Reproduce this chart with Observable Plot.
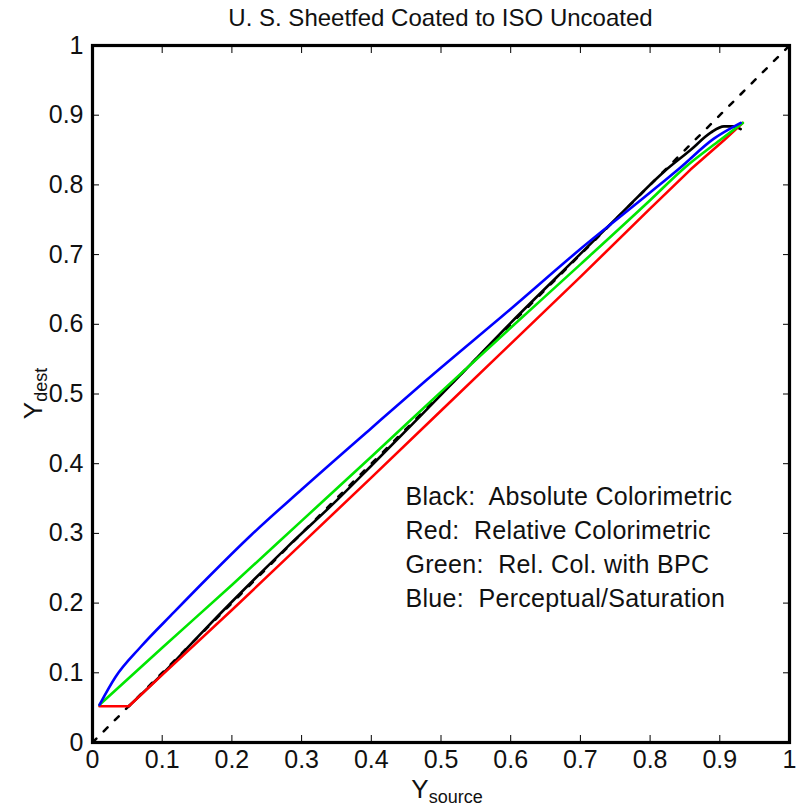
<!DOCTYPE html>
<html><head><meta charset="utf-8">
<script src="https://cdn.jsdelivr.net/npm/d3@7"></script>
<script src="https://cdn.jsdelivr.net/npm/@observablehq/plot@0.6"></script>
<style>
body{margin:0;background:#fff;}
#chart svg{font-family:"Liberation Sans",Arial,Helvetica,sans-serif;}
</style>
</head><body><div id="chart"></div>
<script>
const title = "U. S. Sheetfed Coated to ISO Uncoated";
const xLabelMain = "Y", xLabelSub = "source";
const yLabelMain = "Y", yLabelSub = "dest";
const tickValues = [0, 0.1, 0.2, 0.3, 0.4, 0.5, 0.6, 0.7, 0.8, 0.9, 1];
const tickLabels = ["0", "0.1", "0.2", "0.3", "0.4", "0.5", "0.6", "0.7", "0.8", "0.9", "1"];

const diagX = [0, 1];
const diagY = [0, 1];

const blackX = [0.052, 0.1, 0.16, 0.234, 0.279, 0.35, 0.4, 0.471, 0.514, 0.6, 0.7, 0.7575, 0.82, 0.858, 0.887, 0.906, 0.92, 0.93];
const blackY = [0.052, 0.098, 0.161, 0.236, 0.28, 0.347, 0.397, 0.469, 0.513, 0.602, 0.701, 0.758, 0.819, 0.85, 0.875, 0.884, 0.884, 0.88];

const redX = [0.01, 0.052, 0.1, 0.2, 0.3, 0.4, 0.5, 0.6, 0.7, 0.8, 0.858, 0.906, 0.933];
const redY = [0.052, 0.052, 0.097, 0.19, 0.285, 0.38, 0.476, 0.572, 0.668, 0.766, 0.822, 0.864, 0.889];

const greenX = [0.01, 0.1, 0.2, 0.3, 0.4, 0.5, 0.6, 0.7, 0.8, 0.85, 0.9, 0.933];
const greenY = [0.054, 0.136, 0.226, 0.318, 0.41, 0.503, 0.595, 0.686, 0.778, 0.825, 0.864, 0.889];

const blueX = [0.01, 0.033, 0.069, 0.117, 0.165, 0.227, 0.3, 0.4, 0.478, 0.6, 0.7, 0.8, 0.8436, 0.891, 0.93];
const blueY = [0.054, 0.094, 0.137, 0.187, 0.236, 0.297, 0.363, 0.451, 0.519, 0.622, 0.708, 0.789, 0.825, 0.866, 0.889];

const legendLines = [
  "Black:  Absolute Colorimetric",
  "Red:  Relative Colorimetric",
  "Green:  Rel. Col. with BPC",
  "Blue:  Perceptual/Saturation"
];

const toRows = (xs, ys) => xs.map((x, i) => ({x, y: ys[i]}));
const fmt = d => tickLabels[tickValues.indexOf(d)];

const W = 796, H = 809;
const mL = 92, mR = 7, mT = 45, mB = 67;

const svg = Plot.plot({
  width: W, height: H,
  marginLeft: mL, marginRight: mR, marginTop: mT, marginBottom: mB,
  style: {background: "#fff", fontFamily: "Liberation Sans, Arial, sans-serif"},
  x: {domain: [0, 1]},
  y: {domain: [0, 1]},
  marks: [
    Plot.axisX({anchor: "bottom", ticks: tickValues, tickSize: -7, tickFormat: () => "", label: null}),
    Plot.axisX({anchor: "top", ticks: tickValues, tickSize: -7, tickFormat: () => "", label: null}),
    Plot.axisY({anchor: "left", ticks: tickValues, tickSize: -7, tickFormat: () => "", label: null}),
    Plot.axisY({anchor: "right", ticks: tickValues, tickSize: -7, tickFormat: () => "", label: null}),
    Plot.axisX({anchor: "bottom", ticks: tickValues, tickSize: 0, tickPadding: 8, tickFormat: fmt, fontSize: 25, fill: "#111", label: null}),
    Plot.axisY({anchor: "left", ticks: tickValues, tickSize: 0, tickPadding: 9, tickFormat: fmt, fontSize: 25, fill: "#111", label: null}),
    Plot.line(toRows(diagX, diagY), {x: "x", y: "y", stroke: "black", strokeWidth: 2.5, strokeDasharray: "5.5,10.3"}),
    Plot.line(toRows(blackX, blackY), {x: "x", y: "y", stroke: "black", strokeWidth: 2.6, curve: "monotone-x"}),
    Plot.line(toRows(redX, redY), {x: "x", y: "y", stroke: "#ff0000", strokeWidth: 2.6}),
    Plot.line(toRows(greenX, greenY), {x: "x", y: "y", stroke: "#00e600", strokeWidth: 2.6, curve: "monotone-x"}),
    Plot.line(toRows(blueX, blueY), {x: "x", y: "y", stroke: "#0000ff", strokeWidth: 2.6, curve: "monotone-x"}),
    Plot.text([legendLines.join("\n")], {frameAnchor: "top-left", dx: 313, dy: 436, lineAnchor: "top", textAnchor: "start", lineHeight: 1.35, fontSize: 25, fill: "#111"}),
    Plot.frame({stroke: "black", strokeWidth: 3.2})
  ]
});

const s = d3.select(svg);
s.selectAll("[aria-label=text] text").style("letter-spacing", "0.3px");
s.append("text").attr("x", (mL + W - mR) / 2).attr("y", 26).attr("text-anchor", "middle")
  .attr("font-size", 24).attr("fill", "#111").text(title);
const xl = s.append("text").attr("x", 447).attr("y", 798).attr("text-anchor", "middle").attr("fill", "#111");
xl.append("tspan").attr("font-size", 26).text(xLabelMain);
xl.append("tspan").attr("font-size", 18).attr("dy", 5).text(xLabelSub);
const yl = s.append("text").attr("transform", `translate(42,${(mT + H - mB) / 2}) rotate(-90)`).attr("text-anchor", "middle").attr("fill", "#111");
yl.append("tspan").attr("font-size", 26).text(yLabelMain);
yl.append("tspan").attr("font-size", 18).attr("dy", 5).text(yLabelSub);

document.getElementById("chart").appendChild(svg);
</script>
</body></html>
